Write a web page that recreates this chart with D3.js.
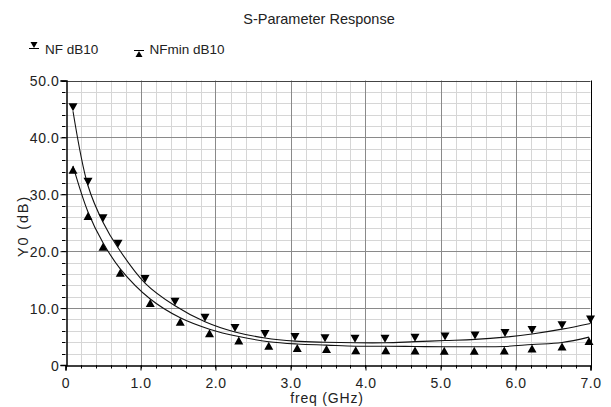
<!DOCTYPE html>
<html><head><meta charset="utf-8">
<script src="https://cdn.jsdelivr.net/npm/d3@7"></script>
<style>body{margin:0;background:#fff;}svg{display:block;font-family:"Liberation Sans",Arial,sans-serif;}</style>
</head><body>
<svg id="c" width="611" height="407"></svg>
<script>
const title = "S-Parameter Response";
const seriesNames = ["NF dB10", "NFmin dB10"];
const xTicks = [0,1,2,3,4,5,6,7];
const xTickLabels = ["0","1.0","2.0","3.0","4.0","5.0","6.0","7.0"];
const yTicks = [0,10,20,30,40,50];
const yTickLabels = ["0","10.0","20.0","30.0","40.0","50.0"];
const nfFreq = [0.1,0.3,0.5,0.7,1.06,1.46,1.86,2.26,2.66,3.06,3.46,3.86,4.26,4.66,5.06,5.46,5.86,6.22,6.62,7.0];
const nfVal  = [44.6,31.5,25.1,20.6,14.4,10.4,7.6,5.8,4.75,4.2,4.0,3.9,3.9,4.1,4.3,4.5,4.9,5.45,6.3,7.3];
const nfminFreq = [0.1,0.3,0.5,0.73,1.13,1.53,1.92,2.31,2.71,3.09,3.48,3.87,4.27,4.66,5.05,5.45,5.85,6.22,6.62,6.98];
const nfminVal  = [35.0,26.9,21.5,16.9,11.6,8.3,6.3,5.0,4.1,3.7,3.5,3.3,3.3,3.25,3.2,3.2,3.25,3.6,3.95,4.9];

const txt = "#222";
const svg = d3.select("#c");
const x = d3.scaleLinear().domain([0,7]).range([65.5,590.5]);
const y = d3.scaleLinear().domain([0,50]).range([365,80.5]);

// minor grid
const xMinor = d3.range(0,7.001,0.2).map(v=>+v.toFixed(1));
const yMinor = d3.range(0,50.001,2);
const g = svg.append("g");
g.selectAll(".vx").data(xMinor.filter(v=>Math.abs(v-Math.round(v))>1e-6)).enter().append("line")
  .attr("x1",d=>Math.round(x(d))+0.5).attr("x2",d=>Math.round(x(d))+0.5).attr("y1",y(0)).attr("y2",y(50))
  .attr("stroke","#d6d6d6");
g.selectAll(".hy").data(yMinor.filter(v=>v%10!==0)).enter().append("line")
  .attr("y1",d=>Math.round(y(d))+0.5).attr("y2",d=>Math.round(y(d))+0.5).attr("x1",x(0)).attr("x2",x(7))
  .attr("stroke","#d6d6d6");
// major grid
g.selectAll(".mx").data(xTicks.slice(1)).enter().append("line")
  .attr("x1",d=>Math.round(x(d))+0.5).attr("x2",d=>Math.round(x(d))+0.5).attr("y1",y(0)).attr("y2",y(50))
  .attr("stroke",d=>d===7?"#000":"#8a8a8a");
g.selectAll(".my").data(yTicks.slice(1)).enter().append("line")
  .attr("y1",d=>Math.round(y(d))+0.5).attr("y2",d=>Math.round(y(d))+0.5).attr("x1",x(0)).attr("x2",x(7))
  .attr("stroke",d=>d===50?"#444":"#8a8a8a");

// axes
const xAxis = d3.axisBottom(x).tickValues(xTicks).tickFormat((d,i)=>xTickLabels[i]).tickSize(5).tickPadding(4);
const yAxis = d3.axisLeft(y).tickValues(yTicks).tickFormat((d,i)=>yTickLabels[i]).tickSize(6).tickPadding(1);
const gx = svg.append("g").attr("transform",`translate(0,${Math.round(y(0))+0.5})`).call(xAxis);
const gy = svg.append("g").attr("transform",`translate(${Math.round(x(0))+0.5},0)`).call(yAxis);
[gx,gy].forEach(a=>{a.select(".domain").attr("stroke","#000").attr("stroke-width",1.5);
  a.selectAll("text").attr("font-size",14).attr("letter-spacing",0.6).attr("fill",txt).attr("font-family","Liberation Sans, Arial, sans-serif");
  a.selectAll(".tick line").attr("stroke","#000");});
gx.selectAll("text").attr("y",0).attr("dy",0).attr("transform","translate(0,22)");
gy.selectAll("text").attr("dy","0.36em");
// minor ticks
svg.append("g").selectAll("line").data(xMinor).enter().append("line")
  .attr("x1",d=>Math.round(x(d))+0.5).attr("x2",d=>Math.round(x(d))+0.5).attr("y1",y(0)).attr("y2",y(0)+3.5).attr("stroke","#000");
svg.append("g").selectAll("line").data(yMinor).enter().append("line")
  .attr("y1",d=>Math.round(y(d))+0.5).attr("y2",d=>Math.round(y(d))+0.5).attr("x1",x(0)-3.5).attr("x2",x(0)).attr("stroke","#000");

// curves
const line = d3.line().x(d=>x(d[0])).y(d=>y(d[1])).curve(d3.curveCatmullRom.alpha(0.5));
const nfData = nfFreq.map((f,i)=>[f,nfVal[i]]);
const nfminData = nfminFreq.map((f,i)=>[f,nfminVal[i]]);
svg.append("path").datum(nfData).attr("d",line).attr("fill","none").attr("stroke","#111").attr("stroke-width",1.1);
svg.append("path").datum(nfminData).attr("d",line).attr("fill","none").attr("stroke","#111").attr("stroke-width",1.1);

// markers: tip at data point
const down = (px,py)=>`M${px-4.5},${py-8}L${px+4.5},${py-8}L${px},${py}Z`;
const up = (px,py)=>`M${px-4.5},${py+8}L${px+4.5},${py+8}L${px},${py}Z`;
svg.append("g").selectAll("path").data(nfData).enter().append("path")
  .attr("d",d=>down(x(d[0]),y(d[1]))).attr("fill","#000");
svg.append("g").selectAll("path").data(nfminData).enter().append("path")
  .attr("d",d=>up(x(d[0]),y(d[1]))).attr("fill","#000");

// title
svg.append("text").attr("x",319).attr("y",24).attr("text-anchor","middle").attr("font-size",14.5).attr("fill",txt).text(title);
// legend
const lg = svg.append("g");
lg.append("path").attr("d",`M30.5,42L37.5,42L34,48Z`).attr("fill","#000");
lg.append("line").attr("x1",29).attr("x2",39).attr("y1",48.5).attr("y2",48.5).attr("stroke","#000");
lg.append("text").attr("x",45).attr("y",54).attr("font-size",13.5).attr("fill",txt).text(seriesNames[0]);
lg.append("line").attr("x1",134).attr("x2",144).attr("y1",50.5).attr("y2",50.5).attr("stroke","#000");
lg.append("path").attr("d",`M135.5,57L142.5,57L139,51Z`).attr("fill","#000");
lg.append("text").attr("x",149.5).attr("y",54).attr("font-size",13.5).attr("fill",txt).text(seriesNames[1]);
// axis labels
svg.append("text").attr("x",327).attr("y",403).attr("text-anchor","middle").attr("font-size",14).attr("letter-spacing",0.8).attr("fill",txt).text("freq (GHz)");
svg.append("text").attr("transform","translate(28,226) rotate(-90)").attr("text-anchor","middle").attr("font-size",14.5).attr("letter-spacing",1.8).attr("fill",txt).text("Y0 (dB)");
</script>
</body></html>
